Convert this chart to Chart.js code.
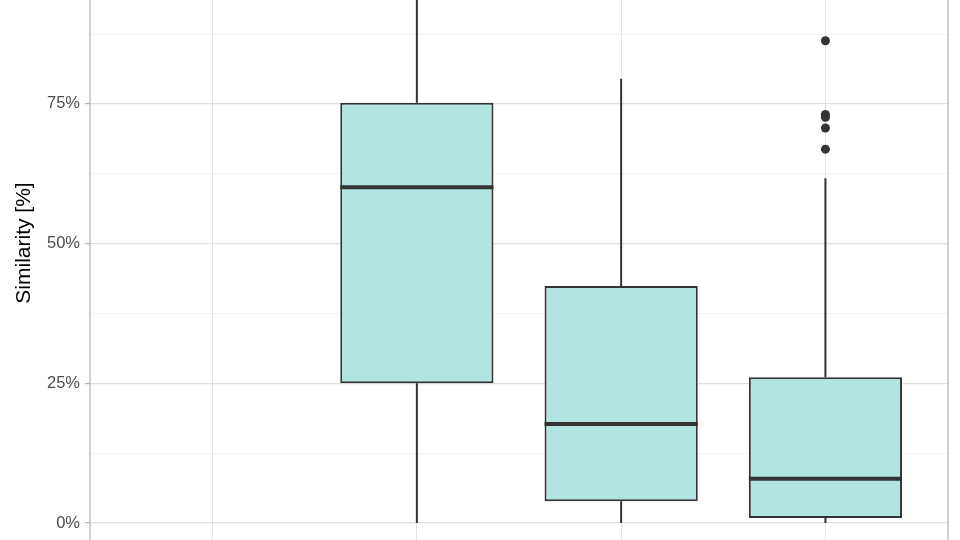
<!DOCTYPE html>
<html>
<head>
<meta charset="utf-8">
<script src="https://cdn.jsdelivr.net/npm/chart.js@4"></script>
<style>
  html, body { margin: 0; padding: 0; background: #fff; }
  #wrap { width: 960px; height: 540px; }
</style>
</head>
<body>
<div id="wrap"><canvas id="chart" width="960" height="540"></canvas></div>
<script>
// categories (first group has no data)
const categories = ['Group 1', 'Group 2', 'Group 3', 'Group 4'];
const lowWhisker = [null, 0, 0, 0];
const q1 = [null, 25.0, 3.9, 0.9];
const median = [null, 60.1, 17.7, 7.9];
const q3 = [null, 75.2, 42.4, 26.1];
const highWhisker = [null, 100, 79.5, 61.7];
const outliers = [[], [], [], [86.3, 73.1, 72.6, 70.7, 66.9]];
const yTicks = [0, 12.5, 25, 37.5, 50, 62.5, 75, 87.5];
const yTitle = 'Similarity [%]';

const boxData = [];
const outlierData = [];
categories.forEach((c, i) => {
  if (q1[i] !== null) boxData.push({ x: i, y: [q1[i], q3[i]] });
  outliers[i].forEach(v => outlierData.push({ x: i, y: v }));
});

const dark = '#333333';

// whiskers behind boxes, medians on top, panel border, axis title
const boxParts = {
  id: 'boxParts',
  beforeDatasetsDraw(chart) {
    const { ctx, scales: { x, y }, chartArea } = chart;
    ctx.save();
    ctx.beginPath();
    ctx.rect(chartArea.left, chartArea.top, chartArea.width, chartArea.height);
    ctx.clip();
    ctx.strokeStyle = dark;
    ctx.lineWidth = 2;
    categories.forEach((c, i) => {
      if (q1[i] === null) return;
      const px = x.getPixelForValue(i);
      ctx.beginPath();
      ctx.moveTo(px, y.getPixelForValue(lowWhisker[i]));
      ctx.lineTo(px, y.getPixelForValue(q1[i]));
      ctx.moveTo(px, y.getPixelForValue(q3[i]));
      ctx.lineTo(px, y.getPixelForValue(highWhisker[i]));
      ctx.stroke();
    });
    ctx.restore();
  },
  afterDatasetsDraw(chart) {
    const { ctx, scales: { y }, chartArea } = chart;
    const bars = chart.getDatasetMeta(0).data;
    ctx.save();
    ctx.strokeStyle = dark;
    ctx.lineWidth = 4;
    let k = 0;
    categories.forEach((c, i) => {
      if (q1[i] === null) return;
      const bar = bars[k++];
      const py = y.getPixelForValue(median[i]);
      ctx.beginPath();
      ctx.moveTo(bar.x - bar.width / 2, py);
      ctx.lineTo(bar.x + bar.width / 2, py);
      ctx.stroke();
    });
    ctx.strokeStyle = '#b3b3b3';
    ctx.lineWidth = 1.2;
    ctx.strokeRect(chartArea.left, chartArea.top - 4, chartArea.width, chartArea.height + 8);

    // y title, centred on the full (cropped) panel
    ctx.translate(24, (chartArea.top + chartArea.bottom) / 2 - 27);
    ctx.rotate(-Math.PI / 2);
    ctx.fillStyle = '#000';
    ctx.font = '21px "Liberation Sans"';
    ctx.textAlign = 'center';
    ctx.textBaseline = 'middle';
    ctx.fillText(yTitle, 0, 0);
    ctx.restore();
  }
};

new Chart(document.getElementById('chart'), {
  data: {
    datasets: [
      {
        type: 'bar',
        data: boxData,
        backgroundColor: '#b2e4e2',
        borderColor: dark,
        borderWidth: 2,
        borderSkipped: false,
        barPercentage: 0.75,
        categoryPercentage: 1
      },
      {
        type: 'scatter',
        data: outlierData,
        backgroundColor: dark,
        borderColor: dark,
        pointRadius: 4.5,
        borderWidth: 0
      }
    ]
  },
  options: {
    responsive: false,
    animation: false,
    layout: { autoPadding: false, padding: { left: 0, right: 12, top: 0, bottom: 0 } },
    plugins: { legend: { display: false }, tooltip: { enabled: false } },
    scales: {
      x: {
        type: 'linear',
        min: -0.6,
        max: 3.6,
        offset: false,
        afterBuildTicks: s => { s.ticks = categories.map((c, i) => ({ value: i })); },
        afterFit: s => { s.height = 0; s.paddingLeft = 0; s.paddingRight = 0; },
        ticks: { display: false },
        border: { display: false },
        grid: { color: '#e3e3e3', lineWidth: 1, drawTicks: false, offset: false }
      },
      y: {
        min: -3.04,
        max: 93.6,
        afterBuildTicks: s => { s.ticks = yTicks.map(v => ({ value: v })); },
        afterFit: s => { s.width = 90; s.paddingTop = 0; s.paddingBottom = 0; },
        border: { display: false },
        grid: {
          color: ctx => (ctx.tick && ctx.tick.value % 25 === 0) ? '#e0e0e0' : '#f0f0f0',
          lineWidth: ctx => (ctx.tick && ctx.tick.value % 25 === 0) ? 1.2 : 0.8,
          tickColor: ctx => (ctx.tick && ctx.tick.value % 25 === 0) ? '#b3b3b3' : 'rgba(0,0,0,0)',
          tickLength: 5,
          tickWidth: 1.2
        },
        ticks: {
          padding: 5,
          color: '#4d4d4d',
          font: { family: 'Liberation Sans', size: 16.5 },
          callback: v => (v % 25 === 0 ? v + '%' : '')
        },
        title: { display: false }
      }
    }
  },
  plugins: [boxParts]
});
</script>
</body>
</html>
